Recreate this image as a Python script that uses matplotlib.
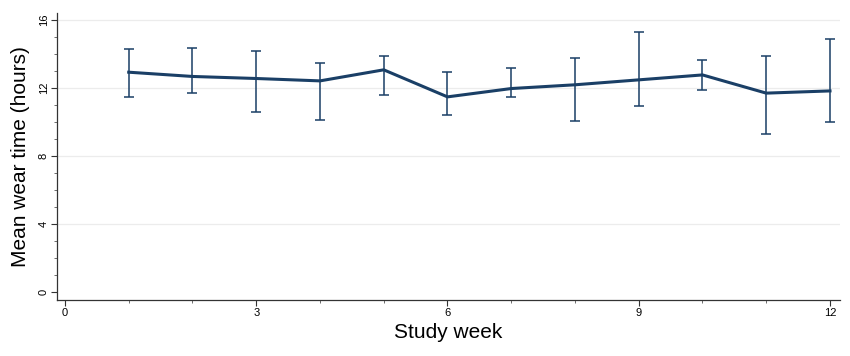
import matplotlib
matplotlib.use("Agg")
import matplotlib.pyplot as plt
from matplotlib.ticker import MultipleLocator

# weekly mean wear time with lower / upper bounds of the interval
weeks = [1, 2, 3, 4, 5, 6, 7, 8, 9, 10, 11, 12]
mean_hours = [12.92, 12.67, 12.55, 12.41, 13.06, 11.47, 11.96, 12.18, 12.47, 12.76, 11.69, 11.82]
lower_hours = [11.47, 11.67, 10.57, 10.12, 11.57, 10.41, 11.47, 10.08, 10.92, 11.90, 9.27, 9.98]
upper_hours = [14.29, 14.35, 14.16, 13.49, 13.86, 12.94, 13.16, 13.75, 15.31, 13.65, 13.88, 14.90]

navy = "#1a3f66"
plt.rcParams["font.family"] = ["Liberation Sans", "DejaVu Sans"]

fig = plt.figure(figsize=(8.5, 3.56), dpi=100)
ax = fig.add_axes([57 / 850, 56 / 356, 783 / 850, 287 / 356])

# light horizontal grid
for y in [4, 8, 12, 16]:
    ax.axhline(y, color="#ececec", lw=0.9, zorder=0)

err_lo = [m - lo for m, lo in zip(mean_hours, lower_hours)]
err_hi = [hi - m for m, hi in zip(mean_hours, upper_hours)]
ax.errorbar(weeks, mean_hours, yerr=[err_lo, err_hi], fmt="none",
            ecolor=navy, elinewidth=1.1, capsize=3.3, capthick=1.1, zorder=2)
ax.plot(weeks, mean_hours, color=navy, lw=2.2, zorder=3)

ax.set_xlim(-0.125, 12.157)
ax.set_ylim(-0.47, 16.4)
ax.xaxis.set_major_locator(MultipleLocator(3))
ax.xaxis.set_minor_locator(MultipleLocator(1))
ax.yaxis.set_major_locator(MultipleLocator(4))
ax.yaxis.set_minor_locator(MultipleLocator(1))

for s in ["top", "right"]:
    ax.spines[s].set_visible(False)
for s in ["left", "bottom"]:
    ax.spines[s].set_color("#333333")
    ax.spines[s].set_linewidth(0.9)

ax.tick_params(which="major", length=4, width=0.8, color="#333333", labelsize=8, pad=2)
ax.tick_params(which="minor", length=2.5, width=0.6, color="#555555")
for lab in ax.get_yticklabels():
    lab.set_rotation(90)
    lab.set_va("center")

ax.set_xlabel("Study week", fontsize=15, labelpad=3)
ax.set_ylabel("Mean wear time (hours)", fontsize=15, labelpad=6)

fig.savefig("out.png", dpi=100)
